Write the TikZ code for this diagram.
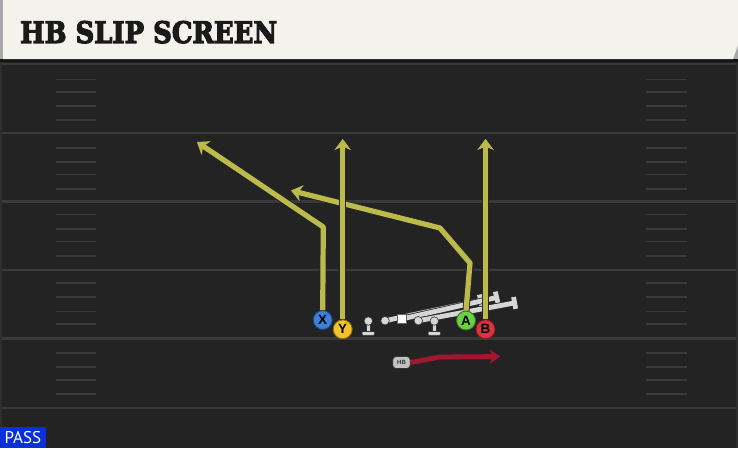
\documentclass[tikz,border=0pt]{standalone}
\usepackage{fontspec}
\usepackage{graphicx}
\usetikzlibrary{arrows.meta}
\newfontfamily\titlefont{DejaVu Serif}[BoldFeatures={FakeBold=4}]
\newfontfamily\pfont{Liberation Sans}
\newfontfamily\passfont{PT Sans}
\definecolor{fieldbg}{HTML}{232323}
\definecolor{fieldedge}{HTML}{2E2E2E}
\definecolor{yardc}{HTML}{3A3A3A}
\definecolor{hashc}{HTML}{3A3A3A}
\definecolor{titlebg}{HTML}{F4F2EC}
\definecolor{titlegray}{HTML}{A8A8A8}
\definecolor{titletext}{HTML}{1A1A1A}
\definecolor{routey}{HTML}{BBBA4A}
\definecolor{routered}{HTML}{A3162F}
\definecolor{pblue}{HTML}{3E7FD9}
\definecolor{pyellow}{HTML}{F3C12B}
\definecolor{pgreen}{HTML}{6AD146}
\definecolor{pred}{HTML}{E1313F}
\definecolor{olgray}{HTML}{D6D6D6}
\definecolor{passblue}{HTML}{0B2FD9}
\begin{document}
\begin{tikzpicture}[x=1pt,y=-1pt,
  yardline/.style={draw=yardc, line width=2.5pt},
  hashline/.style={draw=hashc, line width=1.6pt},
  player/.style={circle, minimum size=19pt, inner sep=0pt, line width=0.9pt,
    font=\pfont\bfseries\fontsize{13.5}{13.5}\selectfont, text=black},
  route/.style={draw=routey, line width=5.2pt, line join=round,
    preaction={draw=black!85, line width=7pt, line join=round,
      -{Stealth[length=12.5pt,width=19pt,inset=4pt,line width=0.5pt]}},
    -{Stealth[length=11pt,width=16.5pt,inset=3.5pt,line width=0.5pt]}},
  redroute/.style={draw=routered, line width=4.8pt, line join=round,
    preaction={draw=black!85, line width=6.4pt, line join=round,
      -{Stealth[length=12pt,width=17pt,inset=4pt,line width=0.5pt]}},
    -{Stealth[length=10.5pt,width=14.5pt,inset=3.5pt,line width=0.5pt]}},
  release/.style={draw=olgray, line width=4.8pt,
    preaction={draw=black!85, line width=6.4pt, -{Bar[width=14pt,line width=6.4pt]}},
    -{Bar[width=12pt,line width=4.8pt]}},
  olshape/.style={fill=olgray, draw=black!80, line width=0.6pt},
  olhead/.style={circle, fill=olgray, draw=black!80, line width=0.6pt, minimum size=8.5pt, inner sep=0pt},
  centerbox/.style={rectangle, fill=white, draw=black!60, line width=0.5pt, minimum size=9pt, inner sep=0pt},
  hbbox/.style={rectangle, rounded corners=3.5pt, fill=olgray!90!black, draw=black!80, line width=0.6pt,
    minimum width=17.5pt, minimum height=12pt, inner sep=0pt,
    font=\pfont\bfseries\fontsize{6}{6}\selectfont, text=black!80}
]
\useasboundingbox (0,0) rectangle (738,448);
% field
\fill[fieldbg] (0,0) rectangle (738,448);
\fill[fieldedge] (0,59) rectangle (2,448);
\fill[fieldedge] (736,59) rectangle (738,448);
\fill[black!92] (0,59) rectangle (738,61.5);
\foreach \yy in {64,133,201.5,270,338.5,408}
  \draw[yardline] (2,\yy) -- (736,\yy);
\foreach \yy in {79.5,92,106,120,147.7,162,174.5,189,214.5,228.7,241.3,256,283,297,311.3,324,352.7,367,379.7,394}{
  \draw[hashline] (56,\yy) -- (96,\yy);
  \draw[hashline] (646,\yy) -- (686.5,\yy);
}
% title bar
\fill[titlegray] (0,0) rectangle (738,59);
\fill[titlebg] (3,0) -- (738,0) -- (738,45) -- (733,59) -- (3,59) -- cycle;
\node[anchor=south west, inner sep=0pt, text=titletext] (title) at (20,43.6)
  {\resizebox{257pt}{22pt}{\titlefont\bfseries HB SLIP SCREEN}};
% offensive line releases
\coordinate (g1) at (385,320.7);
\coordinate (c0) at (401.7,319);
\coordinate (g2) at (418.3,320.7);
\coordinate (g1e) at (483,300);
\coordinate (c0e) at (499,297);
\coordinate (g2e) at (517,302.5);
\draw[release] (g1) -- (g1e);
\draw[release] (c0) -- (c0e);
\draw[release] (g2) -- (g2e);
% tackles (pass block)
\foreach \cx/\nm in {368.3/lt,434.3/rt}{
  \draw[olshape] (\cx-2,322) rectangle (\cx+2,332);
  \draw[olshape, rounded corners=1pt] (\cx-6.3,331.5) rectangle (\cx+6.3,335.3);
  \node[olhead] (\nm) at (\cx,321) {};
}
\node[olhead] (lg) at (g1) {};
\node[olhead] (rg) at (g2) {};
\node[centerbox] (c) at (c0) {};
% receivers
\node[player, fill=pblue, draw=pblue!55!black] (X) at (322.7,320) {X};
\node[player, fill=pyellow, draw=pyellow!55!black] (Y) at (342.7,329.3) {Y};
\node[player, fill=pgreen, draw=pgreen!55!black] (A) at (466,320.5) {A};
\node[player, fill=pred, draw=pred!55!black] (B) at (485.5,329.3) {B};
% routes
\coordinate (xk) at (323.3,227);
\coordinate (xe) at (197,142);
\coordinate (ye) at (342.7,139);
\coordinate (ak1) at (470,263);
\coordinate (ak2) at (440,228);
\coordinate (ae) at (291,190.5);
\coordinate (be) at (485.5,139);
\draw[route] (X.north) -- (xk) -- (xe);
\draw[route] (A.north) -- (ak1) -- (ak2) -- (ae);
\draw[route] (Y.north) -- (ye);
\draw[route] (B.north) -- (be);
% halfback
\node[hbbox] (HB) at (401.5,362.5) {HB};
\coordinate (hk) at (440,357);
\coordinate (he) at (500,356.5);
\draw[redroute] (HB.east) -- (hk) -- (he);
% pass tag
\node[fill=passblue, text=white, anchor=south west, minimum width=45.5pt, minimum height=20.5pt,
  inner sep=0pt, font=\passfont\fontsize{17}{17}\selectfont] (pass) at (0,448) {PASS};
\end{tikzpicture}
\end{document}
